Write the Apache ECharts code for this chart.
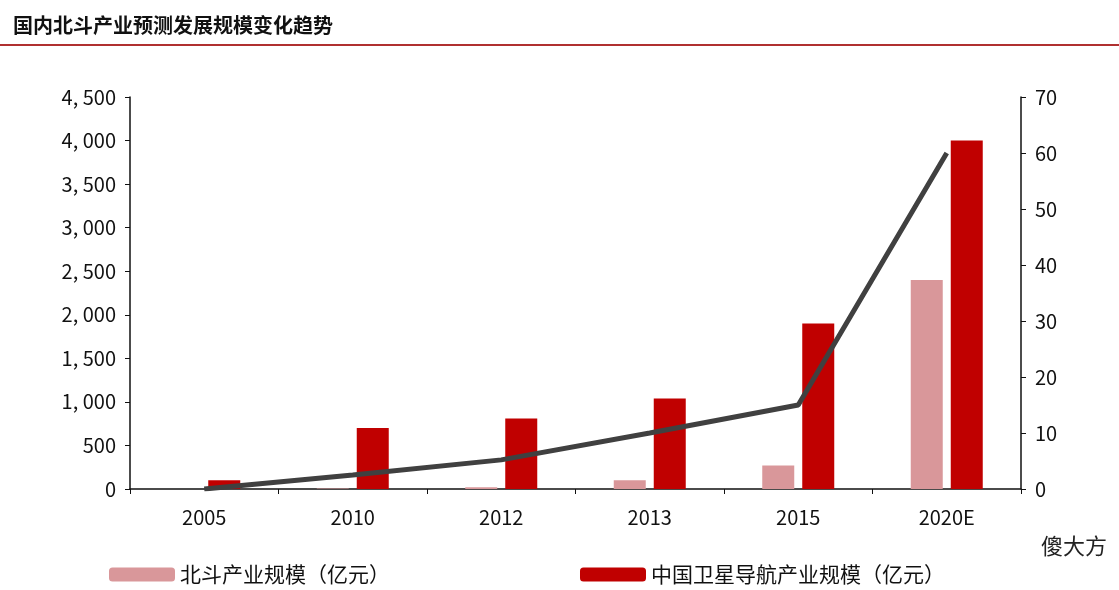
<!DOCTYPE html>
<html><head><meta charset="utf-8">
<script src="https://cdn.jsdelivr.net/npm/echarts@6/dist/echarts.min.js"></script>
<style>html,body{margin:0;padding:0;background:#fff}#c{width:1119px;height:590px}</style>
</head><body><div id="c"></div>
<script>
const categories = ['2005','2010','2012','2013','2015','2020E'];
const beidou = [0, 5, 20, 100, 270, 2400];
const satNav = [100, 700, 810, 1040, 1900, 4000];
const trend = [0, 2.5, 5.2, 10, 15, 60];
const leftTicks = [0, 4500, 500];
const rightTicks = [0, 70, 10];
const font = '"Noto Sans CJK SC", "Noto Sans", sans-serif';
const chart = echarts.init(document.getElementById('c'));
chart.setOption({
  animation: false,
  textStyle: {fontFamily: font},
  title: {text: '国内北斗产业预测发展规模变化趋势', left: 8, top: 10,
    textStyle: {fontSize: 20, fontWeight: 'bold', color: '#111', fontFamily: font}},
  graphic: [
    {type: 'line', shape: {x1: 0, y1: 45, x2: 1119, y2: 45}, style: {stroke: '#b03030', lineWidth: 2}},
    {type: 'text', right: 12, top: 535, style: {text: '傻大方', fontSize: 22, fill: '#222', fontFamily: font}}
  ],
  legend: {bottom: 0, left: 104, itemGap: 190, itemWidth: 66, itemHeight: 14,
    textStyle: {fontSize: 21, color: '#111', fontFamily: font},
    data: ['北斗产业规模（亿元）', '中国卫星导航产业规模（亿元）']},
  grid: {left: 130, right: 98, top: 97, bottom: 101},
  xAxis: {type: 'category', data: categories,
    axisLine: {lineStyle: {color: '#111', width: 1.5}}, axisTick: {show: true, lineStyle: {color: '#111'}},
    axisLabel: {fontSize: 20, color: '#111', margin: 18}},
  yAxis: [
    {type: 'value', min: leftTicks[0], max: leftTicks[1], interval: leftTicks[2],
      axisLine: {show: true, lineStyle: {color: '#111', width: 1.5}}, axisTick: {show: true, lineStyle: {color: '#111'}},
      splitLine: {show: false},
      axisLabel: {fontSize: 20, color: '#111', margin: 14, formatter: v => v.toLocaleString('en-US').replace(',', ', ')}},
    {type: 'value', min: rightTicks[0], max: rightTicks[1], interval: rightTicks[2],
      axisLine: {show: true, lineStyle: {color: '#111', width: 1.5}}, axisTick: {show: true, lineStyle: {color: '#111'}},
      splitLine: {show: false},
      axisLabel: {fontSize: 20, color: '#111', margin: 14}}
  ],
  series: [
    {name: '北斗产业规模（亿元）', type: 'bar', data: beidou, barWidth: 32, barGap: '25%',
      itemStyle: {color: '#d9979a'}},
    {name: '中国卫星导航产业规模（亿元）', type: 'bar', data: satNav, barWidth: 32,
      itemStyle: {color: '#c00000'}},
    {name: 'trend', type: 'line', yAxisIndex: 1, data: trend, symbol: 'none',
      lineStyle: {color: '#404040', width: 5}, z: 5}
  ]
});
</script></body></html>
